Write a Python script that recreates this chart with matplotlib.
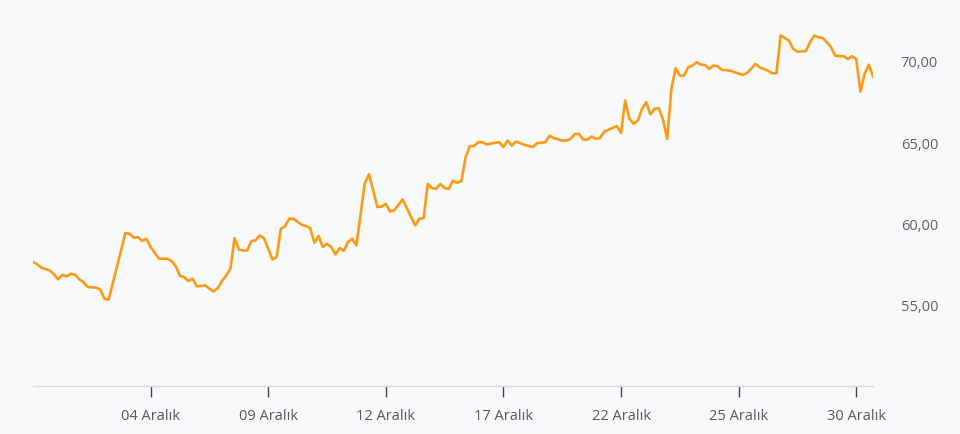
import matplotlib.pyplot as plt

# sample index (position in the series) and price
idx = [0, 1, 2, 4, 5, 6, 7, 8, 9, 10, 11, 12, 13, 15, 16, 17, 18,
       22, 23, 24, 25, 26, 27, 28, 30, 32, 33, 34, 35, 36, 37, 38, 39,
       41, 42, 43, 44, 45, 46, 47, 48, 49, 50, 51, 52, 53, 54, 55, 56,
       57, 58, 59, 60, 61, 62, 64, 65, 66, 67, 68, 69, 70, 71, 72, 73,
       74, 75, 76, 77, 79, 80, 82, 83, 84, 85, 86, 88, 91, 92, 93, 94,
       95, 96, 97, 98, 99, 100, 101, 102, 103, 104, 105, 106, 107, 108,
       110, 111, 112, 113, 114, 115, 117, 119, 120, 122, 123, 124, 126,
       127, 128, 129, 130, 131, 132, 133, 134, 135, 136, 138, 139, 140,
       141, 142, 143, 144, 145, 146, 147, 148, 149, 150, 151, 152, 153,
       154, 155, 156, 157, 158, 159, 160, 161, 162, 163, 164, 166, 167,
       169, 170, 171, 172, 173, 174, 175, 176, 177, 178, 179, 180, 181,
       182, 184, 185, 186, 187, 188, 189, 190, 191, 192, 193, 194, 195,
       196, 197, 198, 199, 200]
price = [57.63, 57.48, 57.28, 57.11, 56.87, 56.56, 56.85, 56.74, 56.91,
         56.85, 56.56, 56.40, 56.09, 56.05, 55.94, 55.37, 55.31,
         59.41, 59.37, 59.12, 59.16, 58.92, 59.06, 58.55, 57.83, 57.83,
         57.69, 57.36, 56.77, 56.70, 56.46, 56.60, 56.13,
         56.19, 55.99, 55.82, 56.03, 56.46, 56.80, 57.22, 59.10, 58.40,
         58.34, 58.34, 58.92, 58.96, 59.26, 59.10, 58.44,
         57.79, 57.93, 59.67, 59.82, 60.29, 60.29, 59.92, 59.84, 59.72,
         58.81, 59.23, 58.55, 58.75, 58.55, 58.09, 58.49,
         58.32, 58.86, 59.06, 58.65, 62.48, 63.04, 61.01, 61.04, 61.21,
         60.74, 60.80, 61.48, 59.88, 60.29, 60.33, 62.44,
         62.18, 62.13, 62.44, 62.18, 62.13, 62.64, 62.50, 62.61, 64.08,
         64.76, 64.76, 65.00, 65.00, 64.86,
         64.96, 65.00, 64.70, 65.10, 64.79, 65.04, 64.84, 64.70, 64.94,
         65.00, 65.41, 65.25, 65.10,
         65.10, 65.21, 65.51, 65.51, 65.16, 65.16, 65.35, 65.21, 65.25,
         65.65, 65.88, 65.99, 65.57,
         67.56, 66.44, 66.13, 66.33, 67.05, 67.46, 66.71, 67.05, 67.09,
         66.39, 65.21, 68.28, 69.55,
         69.10, 69.10, 69.61, 69.71, 69.92, 69.77, 69.75, 69.51, 69.71,
         69.67, 69.45, 69.40, 69.31,
         69.14, 69.26, 69.51, 69.82, 69.61, 69.51, 69.40, 69.24, 69.24,
         71.57, 71.41, 71.25, 70.74,
         70.57, 70.60, 71.15, 71.56, 71.46, 71.41, 71.15, 70.84, 70.33,
         70.29, 70.29, 70.12, 70.29,
         70.12, 68.11, 69.20, 69.77, 69.04]

tick_idx = [28, 56, 84, 112, 140, 168, 196]
tick_labels = ['04 Aralık', '09 Aralık', '12 Aralık', '17 Aralık',
               '22 Aralık', '25 Aralık', '30 Aralık']
y_ticks = [55, 60, 65, 70]
y_labels = ['55,00', '60,00', '65,00', '70,00']

plt.rcParams['font.family'] = ['Open Sans', 'DejaVu Sans']

bg = '#f8f9fa'
fig = plt.figure(figsize=(9.6, 4.35), dpi=100, facecolor=bg)
ax = fig.add_axes([33 / 960, 48 / 435, 840 / 960, 387 / 435], facecolor=bg)

ax.plot(idx, price, color='#fa9b16', lw=1.9, solid_joinstyle='round')

ax.set_xlim(0, 200)
ax.set_ylim(50, 73.81)

for side in ['top', 'left', 'right']:
    ax.spines[side].set_visible(False)
ax.spines['bottom'].set_color('#d6d8dc')
ax.spines['bottom'].set_linewidth(1)

ax.set_xticks(tick_idx)
ax.set_xticklabels(tick_labels)
ax.tick_params(axis='x', direction='out', length=8, width=1, color='#444444',
               labelsize=10.5, labelcolor='#555a60', pad=8)

ax.yaxis.tick_right()
ax.set_yticks(y_ticks)
ax.set_yticklabels(y_labels)
ax.tick_params(axis='y', length=0, labelsize=10.5, labelcolor='#5c6370', pad=20)

fig.savefig('out.png', dpi=100, facecolor=bg)
